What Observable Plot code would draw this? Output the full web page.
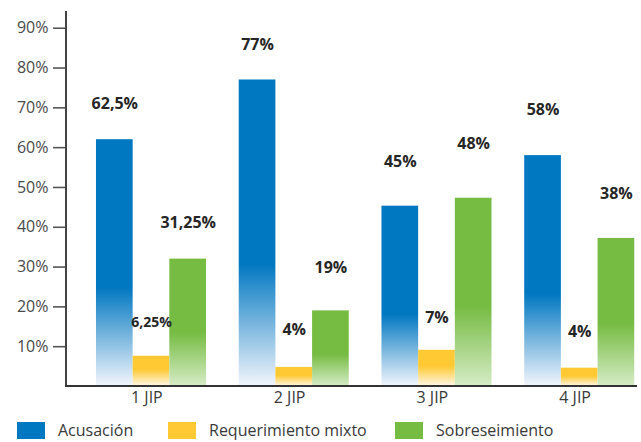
<!DOCTYPE html>
<html><head><meta charset="utf-8">
<script src="https://cdn.jsdelivr.net/npm/d3@7"></script>
<script src="https://cdn.jsdelivr.net/npm/@observablehq/plot@0.6"></script>
<style>
body{margin:0;background:#fff;font-family:"Open Sans",sans-serif;}
#legend{position:relative;height:24px;font-size:16px;color:#3a3a3a;}
.item{position:absolute;top:0;display:flex;align-items:center;height:24px;white-space:nowrap}
.sw{width:28px;height:17px;margin-right:13px}
</style></head><body>
<div id="chart"></div>
<div id="legend"></div>
<script>
// ---- data ----
const groups = ["1 JIP", "2 JIP", "3 JIP", "4 JIP"];
const series = ["Acusación", "Requerimiento mixto", "Sobreseimiento"];
const acusacion = [62, 77, 45.3, 58];
const requerimiento = [7.6, 4.8, 9.1, 4.6];
const sobreseimiento = [32, 19, 47.3, 37.2];
const labelsAcusacion = ["62,5%", "77%", "45%", "58%"];
const labelsRequerimiento = ["6,25%", "4%", "7%", "4%"];
const labelsSobreseimiento = ["31,25%", "19%", "48%", "38%"];
// label anchors, in % units of the value axis
const labelAtAcusacion = [71.1, 85.7, 56.5, 69.6];
const labelAtRequerimiento = [16.1, 14.1, 17.3, 13.6];
const labelAtSobreseimiento = [41.2, 29.9, 61, 48.5];
const yTicks = [10, 20, 30, 40, 50, 60, 70, 80, 90];
const colors = ["#0077c1", "#fec933", "#76bc43"];
const fadeTo = ["#f3f6fc", "#fff7e8", "#d6ecc6"];
const solidUntil = [0.6, 0.45, 0.58];

const values = [acusacion, requerimiento, sobreseimiento];
const labels = [labelsAcusacion, labelsRequerimiento, labelsSobreseimiento];
const labelAt = [labelAtAcusacion, labelAtRequerimiento, labelAtSobreseimiento];
const table = groups.flatMap((g, i) => series.map((s, j) => ({
  group: g, series: s, value: values[j][i], label: labels[j][i], at: labelAt[j][i]
})));

const plot = Plot.plot({
  width: 641,
  height: 418,
  marginLeft: 66,
  marginRight: 4,
  marginTop: 11,
  marginBottom: 32,
  style: {fontFamily: "'Open Sans', sans-serif", fontSize: "16px", color: "#4a4a4a", background: "#fff"},
  fx: {domain: groups, padding: 0, round: false, label: null},
  x: {domain: series, paddingInner: 0, paddingOuter: 0.446, align: 0.916, round: false, axis: null},
  y: {domain: [0, 94.2], label: null},
  color: {domain: series, range: ["url(#grad0)", "url(#grad1)", "url(#grad2)"]},
  marks: [
    Plot.axisY({ticks: yTicks, tickSize: 13, tickPadding: 5, tickFormat: d => d + "%", label: null, stroke: "#555", strokeWidth: 1.6}),
    Plot.axisFx({anchor: "bottom", tickSize: 0, tickPadding: 5, dx: 9, label: null, fill: "#3a3a3a"}),
    Plot.barY(table, {fx: "group", x: "series", y: "value", fill: "series"}),
    Plot.text(table, {fx: "group", x: "series", y: "at", text: "label", fontWeight: "bold",
      fontSize: d => d.label.includes(",") && d.series === series[1] ? 14 : 16, fill: "#262626"})
  ]
});
document.getElementById("chart").appendChild(plot);

// gradients
const svg = d3.select(plot);
const defs = svg.insert("defs", ":first-child");
colors.forEach((c, i) => {
  const g = defs.append("linearGradient").attr("id", "grad" + i)
    .attr("x1", 0).attr("y1", 0).attr("x2", 0).attr("y2", 1);
  g.append("stop").attr("offset", 0).attr("stop-color", c);
  g.append("stop").attr("offset", solidUntil[i]).attr("stop-color", c);
  g.append("stop").attr("offset", 1).attr("stop-color", fadeTo[i]);
});

// axis lines
const ys = plot.scale("y"), fxs = plot.scale("fx");
const x0 = fxs.range[0], x1 = fxs.range[1];
svg.append("line").attr("x1", x0).attr("x2", x0)
  .attr("y1", ys.apply(0) + 1).attr("y2", ys.apply(ys.domain[1]))
  .attr("stroke", "#444").attr("stroke-width", 2);
svg.append("line").attr("x1", x0 - 1).attr("x2", x1)
  .attr("y1", ys.apply(0)).attr("y2", ys.apply(0))
  .attr("stroke", "#333").attr("stroke-width", 2);

// legend
const legend = d3.select("#legend");
const lefts = [17, 168, 395];
series.forEach((s, i) => {
  const it = legend.append("div").attr("class", "item").style("left", lefts[i] + "px");
  it.append("div").attr("class", "sw").style("background", colors[i]);
  it.append("span").text(s);
});
</script>
</body></html>
